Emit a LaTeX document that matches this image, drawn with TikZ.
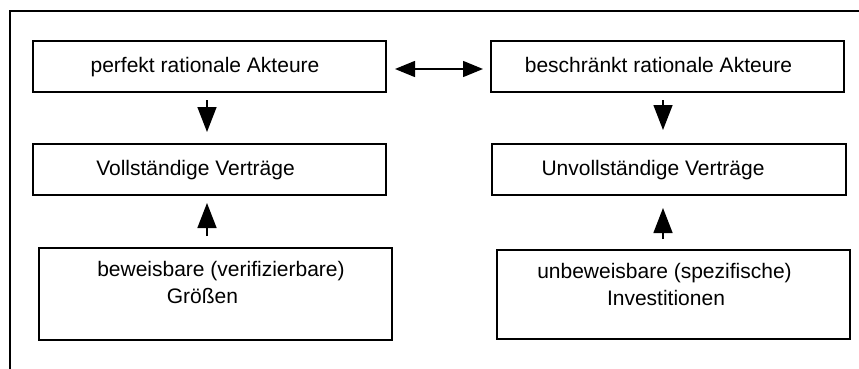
\documentclass[tikz,border=0pt]{standalone}
\usepackage{fontspec}
\setmainfont{Liberation Sans}
\usetikzlibrary{arrows.meta}
\tikzset{
  box/.style={draw, line width=1.5pt, minimum height=#1, inner sep=0pt},
  lbl/.style={anchor=base, inner sep=0pt, font=\fontsize{21}{25}\selectfont},
  vflow/.style={line width=1.5pt, -{Triangle[length=25pt,width=19pt]}},
  hflow/.style={line width=1.5pt, {Triangle[length=20pt,width=16pt]}-{Triangle[length=20pt,width=16pt]}},
  frame/.style={line width=1.5pt}
}
\begin{document}
\begin{tikzpicture}[x=1pt,y=-1pt]
\useasboundingbox (0,0) rectangle (859,369);
% frame
\coordinate (fr1) at (859,11);
\coordinate (fr2) at (10,11);
\coordinate (fr3) at (10,369);
\draw[frame] (fr1) -- (fr2) -- (fr3);
% boxes
\node[box=51pt, minimum width=353pt] (b1) at (209.5,66.5) {};
\node[box=51pt, minimum width=353pt] (b2) at (209.5,169.5) {};
\node[box=51pt, minimum width=353pt] (b3) at (667.5,66.5) {};
\node[box=51pt, minimum width=354pt] (b4) at (669,169.5) {};
\node[box=92pt, minimum width=353pt] (b5) at (215.5,294) {};
\node[box=89pt, minimum width=353pt] (b6) at (673.5,294.5) {};
% texts
\node[lbl] (t1) at (205,72) {perfekt rationale Akteure};
\node[lbl] (t2) at (195.5,175) {Vollständige Verträge};
\node[lbl] (t3) at (658.5,72) {beschränkt rationale Akteure};
\node[lbl] (t4) at (653,175) {Unvollständige Verträge};
\node[lbl] (t5a) at (221,276) {beweisbare (verifizierbare)};
\node[lbl] (t5b) at (202.5,303) {Größen};
\node[lbl] (t6a) at (664.5,278) {unbeweisbare (spezifische)};
\node[lbl] (t6b) at (666,305) {Investitionen};
% arrow end points
\coordinate (d1s) at (207,100);
\coordinate (d1e) at (207,132);
\coordinate (u1s) at (207,236);
\coordinate (u1e) at (207,203);
\coordinate (d2s) at (663,100);
\coordinate (d2e) at (663,130);
\coordinate (u2s) at (663,239);
\coordinate (u2e) at (663,208);
\coordinate (hl) at (395,69);
\coordinate (hr) at (483,69);
% arrows
\draw[vflow] (d1s) -- (d1e);
\draw[vflow] (u1s) -- (u1e);
\draw[vflow] (d2s) -- (d2e);
\draw[vflow] (u2s) -- (u2e);
\draw[hflow] (hl) -- (hr);
\end{tikzpicture}
\end{document}
